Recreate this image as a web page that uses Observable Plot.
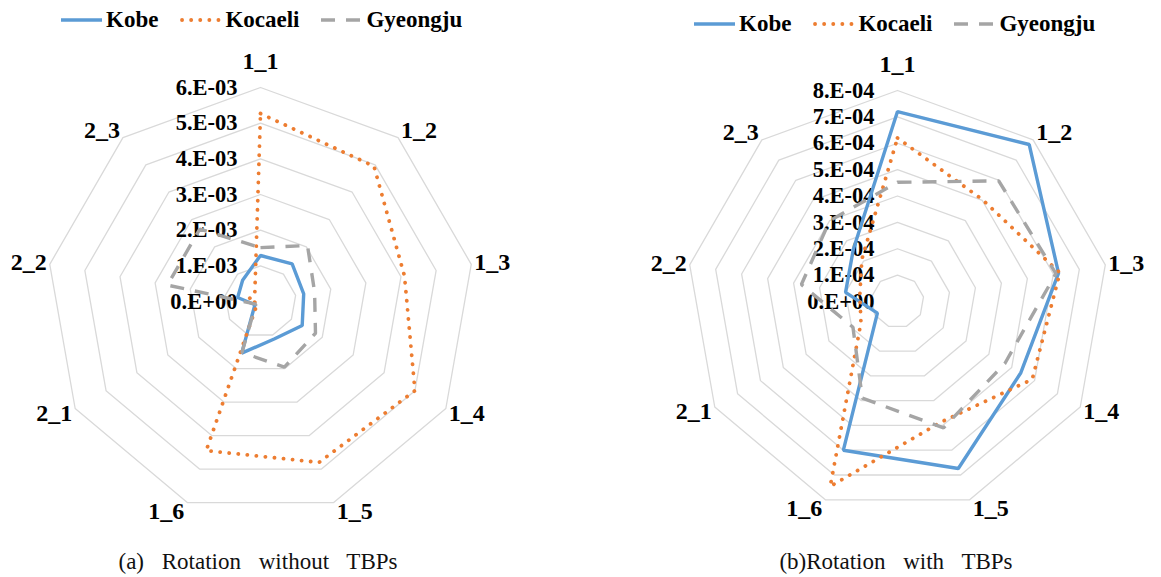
<!DOCTYPE html>
<html><head><meta charset="utf-8">
<script src="https://cdn.jsdelivr.net/npm/d3@7"></script>
<script src="https://cdn.jsdelivr.net/npm/@observablehq/plot@0.6"></script>
<style>
html,body{margin:0;padding:0;background:#fff;}
#root{position:relative;width:1161px;height:577px;overflow:hidden;background:#fff;font-family:"Liberation Serif","Times New Roman",serif;color:#000;}
.panel{position:absolute;top:0;height:577px;}
.panel svg.chart{position:absolute;left:0;top:0;background:transparent;}
.legend{position:absolute;display:flex;align-items:center;height:30px;font-weight:bold;font-size:23px;white-space:nowrap;}
.legend .item{display:flex;align-items:center;margin-right:22px;}
.legend svg{margin-right:4px;display:block;}
.caption{position:absolute;top:548px;line-height:28px;font-size:23px;word-spacing:12px;white-space:nowrap;transform:translateX(-50%);color:#111;}
</style></head><body><div id="root"></div>
<script>
const categories = ["1_1","1_2","1_3","1_4","1_5","1_6","2_1","2_2","2_3"];
const seriesNames = ["Kobe","Kocaeli","Gyeongju"];

// (a) Rotation without TBPs
const kobeA     = [1.29e-3, 1.38e-3, 1.23e-3, 1.35e-3, 1.12e-3, 1.54e-3, 0.18e-3, 0.65e-3, 0.78e-3];
const kocaeliA  = [5.27e-3, 4.95e-3, 4.10e-3, 5.00e-3, 4.80e-3, 4.45e-3, 0.10e-3, 0.35e-3, 0.25e-3];
const gyeongjuA = [1.51e-3, 2.05e-3, 1.54e-3, 1.78e-3, 1.96e-3, 1.52e-3, 0.15e-3, 2.65e-3, 2.65e-3];
const ticksA = [0, 1e-3, 2e-3, 3e-3, 4e-3, 5e-3, 6e-3];
const tickLabelsA = ["0.E+00","1.E-03","2.E-03","3.E-03","4.E-03","5.E-03","6.E-03"];

// (b) Rotation with TBPs
const kobeB     = [7.20e-4, 7.77e-4, 6.20e-4, 5.40e-4, 6.74e-4, 6.00e-4, 0.88e-4, 2.00e-4, 2.60e-4];
const kocaeliB  = [6.20e-4, 5.03e-4, 6.25e-4, 5.90e-4, 4.86e-4, 7.46e-4, 1.60e-4, 1.45e-4, 2.10e-4];
const gyeongjuB = [4.52e-4, 5.97e-4, 6.10e-4, 4.70e-4, 5.10e-4, 3.90e-4, 1.95e-4, 3.70e-4, 4.00e-4];
const ticksB = [0, 1e-4, 2e-4, 3e-4, 4e-4, 5e-4, 6e-4, 7e-4, 8e-4];
const tickLabelsB = ["0.E+00","1.E-04","2.E-04","3.E-04","4.E-04","5.E-04","6.E-04","7.E-04","8.E-04"];

const captionA = "(a) Rotation without TBPs";
const captionB = "(b)Rotation with TBPs";

const styles = {
  Kobe:     {stroke: "#5B9BD5", strokeWidth: 3.4, strokeDasharray: null, strokeLinecap: "butt"},
  Kocaeli:  {stroke: "#ED7D31", strokeWidth: 3.8, strokeDasharray: "0.1 9", strokeLinecap: "round"},
  Gyeongju: {stroke: "#A5A5A5", strokeWidth: 3.4, strokeDasharray: "14 11", strokeLinecap: "butt"}
};
const FONT = "Liberation Serif, Times New Roman, serif";

function radar({series, ticks, tickLabels, width, height, cx, cy, R}) {
  const vmax = ticks[ticks.length - 1];
  const COLAT = 30, D = 36;
  const k = R / COLAT;
  const S = 2 * D * k;
  const mL = cx - S / 2, mT = cy - S / 2;
  const n = categories.length;
  const lon = i => 180 - i * 360 / n;
  const lat = v => 90 - v / vmax * COLAT;

  const rings = ticks.filter(t => t > 0).flatMap(t => categories.map((c, i) => ({t, i})));
  const tickData = ticks.map((t, j) => ({t, label: tickLabels[j]}));

  const catMarks = categories.map((c, i) => {
    const th = i * 2 * Math.PI / n;
    const s = Math.sin(th), co = Math.cos(th);
    const top = Math.abs(s) < 1e-6;
    return Plot.text([c], {
      x: () => lon(i), y: () => lat(vmax), text: d => d,
      textAnchor: top ? "middle" : (s > 0 ? "start" : "end"),
      dx: top ? 0 : (s > 0 ? 3 : -3),
      dy: top ? -26 : -9.5 * co,
      fontSize: 24, fontWeight: "bold", fontFamily: FONT, fill: "#000"
    });
  });

  const seriesMarks = seriesNames.map((name, j) => Plot.line(series[j].map((v, i) => ({v, i})), {
    x: d => lon(d.i), y: d => lat(d.v), curve: "linear-closed",
    stroke: styles[name].stroke, strokeWidth: styles[name].strokeWidth,
    strokeDasharray: styles[name].strokeDasharray, strokeLinecap: styles[name].strokeLinecap,
    strokeLinejoin: "miter"
  }));

  const svg = Plot.plot({
    width, height,
    marginLeft: mL, marginRight: width - mL - S, marginTop: mT, marginBottom: height - mT - S,
    projection: {
      type: "azimuthal-equidistant",
      rotate: [0, -90],
      domain: d3.geoCircle().center([0, 90]).radius(D).precision(1)()
    },
    marks: [
      Plot.line(rings, {x: d => lon(d.i), y: d => lat(d.t), z: "t", curve: "linear-closed", stroke: "#d9d9d9", strokeWidth: 1.3}),
      Plot.text(tickData, {x: () => 180, y: d => lat(d.t), text: "label", textAnchor: "end", dx: -23,
        fontSize: 22.5, fontWeight: "bold", fontFamily: FONT, fill: "#000"}),
      ...catMarks,
      ...seriesMarks
    ]
  });
  svg.classList.add("chart");
  return svg;
}

function legend(left, top) {
  const div = document.createElement("div");
  div.className = "legend";
  div.style.left = left + "px";
  div.style.top = top + "px";
  for (const name of seriesNames) {
    const item = document.createElement("div");
    item.className = "item";
    const sw = document.createElementNS("http://www.w3.org/2000/svg", "svg");
    sw.setAttribute("width", 41); sw.setAttribute("height", 10);
    const ln = document.createElementNS("http://www.w3.org/2000/svg", "line");
    const st = styles[name];
    ln.setAttribute("x1", st.strokeLinecap === "round" ? 2 : 0); ln.setAttribute("x2", 41);
    ln.setAttribute("y1", 5); ln.setAttribute("y2", 5);
    ln.setAttribute("stroke", st.stroke); ln.setAttribute("stroke-width", st.strokeWidth);
    if (st.strokeDasharray) ln.setAttribute("stroke-dasharray", st.strokeDasharray);
    ln.setAttribute("stroke-linecap", st.strokeLinecap);
    sw.appendChild(ln);
    const tx = document.createElement("span");
    tx.textContent = name;
    item.appendChild(sw); item.appendChild(tx);
    div.appendChild(item);
  }
  return div;
}

function panel(left, width, opts, legendPos, caption, capX) {
  const p = document.createElement("div");
  p.className = "panel";
  p.style.left = left + "px";
  p.style.width = width + "px";
  p.appendChild(radar({...opts, width, height: 577}));
  p.appendChild(legend(legendPos[0], legendPos[1]));
  const c = document.createElement("div");
  c.className = "caption";
  c.style.left = capX + "px";
  c.textContent = caption;
  p.appendChild(c);
  return p;
}

const root = document.getElementById("root");
root.appendChild(panel(0, 580, {series: [kobeA, kocaeliA, gyeongjuA], ticks: ticksA, tickLabels: tickLabelsA, cx: 260, cy: 301, R: 214}, [61, 5], captionA, 258));
root.appendChild(panel(580, 581, {series: [kobeB, kocaeliB, gyeongjuB], ticks: ticksB, tickLabels: tickLabelsB, cx: 317, cy: 301, R: 211}, [114, 9], captionB, 316));
</script>
</body></html>
